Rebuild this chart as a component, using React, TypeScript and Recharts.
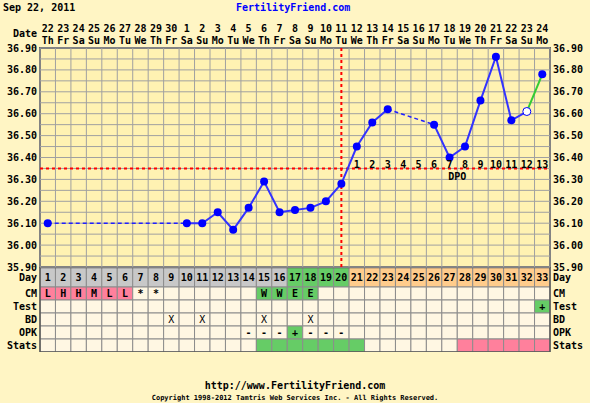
import React from "react";
import {
  ComposedChart,
  Line,
  XAxis,
  YAxis,
  ReferenceLine,
  ReferenceArea,
  ReferenceDot,
  LabelList,
} from "recharts";

const FONT = "'DejaVu Sans Mono', monospace";

// cycle days and their calendar labels
const days = [
  1, 2, 3, 4, 5, 6, 7, 8, 9, 10, 11, 12, 13, 14, 15, 16, 17, 18, 19, 20, 21, 22, 23, 24, 25, 26, 27, 28, 29, 30,
  31, 32, 33,
];
const dates = [
  "22", "23", "24", "25", "26", "27", "28", "29", "30", "1", "2", "3", "4", "5", "6", "7", "8", "9", "10", "11",
  "12", "13", "14", "15", "16", "17", "18", "19", "20", "21", "22", "23", "24",
];
const weekdays = [
  "Th", "Fr", "Sa", "Su", "Mo", "Tu", "We", "Th", "Fr", "Sa", "Su", "Mo", "Tu", "We", "Th", "Fr", "Sa", "Su",
  "Mo", "Tu", "We", "Th", "Fr", "Sa", "Su", "Mo", "Tu", "We", "Th", "Fr", "Sa", "Su", "Mo",
];

// temperatures (null = not recorded)
const temps: (number | null)[] = [
  36.1, null, null, null, null, null, null, null, null, 36.1, 36.1, 36.15, 36.07, 36.17, 36.29, 36.15, 36.16,
  36.17, 36.2, 36.28, 36.45, 36.56, 36.62, null, null, 36.55, 36.4, 36.45, 36.66, 36.86, 36.57, 36.61, 36.78,
];
const tempTicks = [35.9, 36.0, 36.1, 36.2, 36.3, 36.4, 36.5, 36.6, 36.7, 36.8, 36.9];
const openDays = [32];
const greenSegment = [32, 33];
const coverline = 36.35;
const ovulationDay = 20;

// table rows
const cmMarks: Record<number, string> = {
  1: "L", 2: "H", 3: "H", 4: "M", 5: "L", 6: "L", 7: "*", 8: "*", 15: "W", 16: "W", 17: "E", 18: "E",
};
const testMarks: Record<number, string> = { 33: "+" };
const bdMarks: Record<number, string> = { 9: "X", 11: "X", 15: "X", 18: "X" };
const opkMarks: Record<number, string> = { 14: "-", 15: "-", 16: "-", 17: "+", 18: "-", 19: "-", 20: "-" };
const fertileDays = [17, 18, 19, 20];
const statsGreen = [15, 16, 17, 18, 19, 20, 21];
const statsPink = [28, 29, 30, 31, 32, 33];

const BG = "#FFF5C4";
const PLOT = "#FFF2B2";
const CELL = "#FFF7E3";
const GRAY = "#C8C8C8";
const GREEN = "#66CC66";
const ORANGE = "#FFCC8C";
const PINK = "#FF809C";

// dashed connectors over missing readings
const gaps: [number, number][] = [];
let last = -1;
temps.forEach((t, i) => {
  if (t == null) return;
  if (last >= 0 && i - last > 1) gaps.push([last, i]);
  last = i;
});

const rows = [
  { name: "Day", y1: 0, y2: 1.5 },
  { name: "CM", y1: 1.5, y2: 2.5 },
  { name: "Test", y1: 2.5, y2: 3.5 },
  { name: "BD", y1: 3.5, y2: 4.5 },
  { name: "OPK", y1: 4.5, y2: 5.5 },
  { name: "Stats", y1: 5.5, y2: 6.5 },
];
const rowTicks = rows.map((r) => (r.y1 + r.y2) / 2);
const rowName = (v: number) => rows.find((r) => (r.y1 + r.y2) / 2 === v)?.name ?? "";

const chartData = days.map((d, i) => {
  const row: any = {
    day: d,
    temp: d > greenSegment[0] ? null : temps[i],
    green: greenSegment.includes(d) ? temps[i] : null,
    dpo: d > ovulationDay ? d - ovulationDay : null,
    dpoLevel: d > ovulationDay ? coverline : null,
    rowMid: rowTicks[0],
  };
  gaps.forEach(([a, b], k) => {
    row["gap" + k] = i === a || i === b ? temps[i] : null;
  });
  return row;
});

const colEdges = [0, ...days].map((d) => d + 0.5);
const gridLevels = Array.from({ length: 21 }, (_, k) => +(35.9 + k * 0.05).toFixed(2));

const textStyle = { fontSize: 10, fontFamily: FONT, fontWeight: "bold" as const, fill: "#000" };

const DateTick = (props: any) => {
  const { x, y, payload } = props;
  const i = payload.value - 1;
  return (
    <g>
      <text x={x} y={y - 16} textAnchor="middle" {...textStyle}>
        {dates[i]}
      </text>
      <text x={x} y={y - 4} textAnchor="middle" {...textStyle}>
        {weekdays[i]}
      </text>
    </g>
  );
};

const renderDot = (props: any) => {
  const { cx, cy, payload, index } = props;
  if (cx == null || cy == null || payload.temp == null) return <g key={index} />;
  const open = openDays.includes(payload.day);
  return (
    <circle
      key={index}
      cx={cx}
      cy={cy}
      r={4}
      fill={open ? "#FFFFFF" : "#0000FF"}
      stroke="#0000FF"
      strokeWidth={open ? 1 : 0}
    />
  );
};

const renderLastDot = (props: any) => {
  const { cx, cy, payload, index } = props;
  if (cx == null || cy == null || payload.day !== greenSegment[1]) return <g key={index} />;
  return <circle key={index} cx={cx} cy={cy} r={4} fill="#0000FF" />;
};

function cellFor(row: string, d: number): { fill: string; text: string; bold: boolean } {
  if (row === "Day") {
    const fill = d > ovulationDay ? ORANGE : fertileDays.includes(d) ? GREEN : GRAY;
    return { fill, text: String(d), bold: true };
  }
  if (row === "CM") {
    const m = cmMarks[d] ?? "";
    const fill = m && "LHM".includes(m) ? PINK : m && "WE".includes(m) ? GREEN : CELL;
    return { fill, text: m, bold: true };
  }
  if (row === "Test") {
    const m = testMarks[d] ?? "";
    return { fill: m === "+" ? GREEN : CELL, text: m, bold: true };
  }
  if (row === "BD") return { fill: CELL, text: bdMarks[d] ?? "", bold: false };
  if (row === "OPK") {
    const m = opkMarks[d] ?? "";
    return { fill: m === "+" ? GREEN : CELL, text: m, bold: true };
  }
  const fill = statsGreen.includes(d) ? GREEN : statsPink.includes(d) ? PINK : CELL;
  return { fill, text: "", bold: false };
}

const abs = (left: number, top: number, extra: any = {}) => ({
  position: "absolute" as const,
  left,
  top,
  fontFamily: FONT,
  fontWeight: "bold" as const,
  fontSize: 10,
  lineHeight: "12px",
  whiteSpace: "nowrap" as const,
  ...extra,
});

export default function App() {
  return (
    <div style={{ position: "absolute", left: 0, top: 0, width: 590, height: 403, background: BG, overflow: "hidden" }}>
      <div style={abs(3, 2)}>Sep 22, 2011</div>
      <div style={abs(236, 2, { color: "#0000FF" })}>FertilityFriend.com</div>
      <div style={abs(0, 28, { width: 37, textAlign: "right" })}>Date</div>

      <div style={{ position: "absolute", left: 0, top: 267 }}>
        <ComposedChart width={590} height={85} data={chartData} margin={{ top: 0.5, right: 0, bottom: 0, left: 0 }}>
          <XAxis dataKey="day" type="number" domain={[0.5, 33.5]} hide />
          <YAxis
            type="number"
            domain={[0, 6.5]}
            reversed
            ticks={rowTicks}
            interval={0}
            width={40}
            tickLine={false}
            axisLine={false}
            tickSize={0}
            tickMargin={3}
            tick={textStyle}
            tickFormatter={rowName}
          />
          <YAxis
            yAxisId="r"
            orientation="right"
            type="number"
            domain={[0, 6.5]}
            reversed
            ticks={rowTicks}
            interval={0}
            width={40}
            tickLine={false}
            axisLine={false}
            tickSize={0}
            tickMargin={3}
            tick={{ ...textStyle, textAnchor: "start" }}
            tickFormatter={rowName}
          />
          <Line dataKey="rowMid" stroke="none" dot={false} isAnimationActive={false} />
          <Line dataKey="rowMid" yAxisId="r" stroke="none" dot={false} isAnimationActive={false} />
          {rows.map((r) =>
            days.map((d) => {
              const c = cellFor(r.name, d);
              return (
                <ReferenceArea
                  key={r.name + d}
                  x1={d - 0.5}
                  x2={d + 0.5}
                  y1={r.y1}
                  y2={r.y2}
                  fill={c.fill}
                  fillOpacity={1}
                  stroke="#8C8C8C"
                  strokeWidth={1}
                  label={
                    c.text
                      ? {
                          value: c.text,
                          position: "center",
                          ...textStyle,
                          fontWeight: c.bold ? "bold" : "normal",
                        }
                      : undefined
                  }
                />
              );
            })
          )}
          <ReferenceArea x1={0.5} x2={33.5} y1={0} y2={6.5} fill="none" stroke="#555555" strokeWidth={1.5} />
        </ComposedChart>
      </div>

      <div style={{ position: "absolute", left: 0, top: 0 }}>
        <ComposedChart width={590} height={280} data={chartData} margin={{ top: 0, right: 0, bottom: 13, left: 0 }}>
          <XAxis
            dataKey="day"
            type="number"
            domain={[0.5, 33.5]}
            ticks={days}
            interval={0}
            orientation="top"
            height={48}
            tickLine={false}
            axisLine={false}
            tickSize={0}
            tickMargin={0}
            tick={<DateTick />}
          />
          <YAxis
            domain={[35.9, 36.9]}
            ticks={tempTicks}
            interval={0}
            allowDataOverflow
            width={40}
            tickLine={false}
            axisLine={false}
            tickSize={0}
            tickMargin={3}
            tick={textStyle}
            tickFormatter={(v: number) => v.toFixed(2)}
          />
          <YAxis
            yAxisId="r"
            orientation="right"
            domain={[35.9, 36.9]}
            ticks={tempTicks}
            interval={0}
            allowDataOverflow
            width={40}
            tickLine={false}
            axisLine={false}
            tickSize={0}
            tickMargin={3}
            tick={{ ...textStyle, textAnchor: "start" }}
            tickFormatter={(v: number) => v.toFixed(2)}
          />
          <ReferenceArea x1={0.5} x2={33.5} y1={35.9} y2={36.9} fill={PLOT} fillOpacity={1} stroke="none" />
          {gridLevels.map((g) => (
            <ReferenceLine key={"h" + g} y={g} stroke="#A0A0A0" strokeWidth={1} />
          ))}
          {colEdges.map((e) => (
            <ReferenceLine key={"v" + e} x={e} stroke="#A0A0A0" strokeWidth={1} />
          ))}
          <ReferenceArea x1={0.5} x2={33.5} y1={35.9} y2={36.9} fill="none" stroke="#666666" strokeWidth={2} />
          <ReferenceLine y={coverline} stroke="#FF0000" strokeWidth={2} strokeDasharray="3 3" />
          <ReferenceLine x={ovulationDay} stroke="#FF0000" strokeWidth={2} strokeDasharray="3 3" />
          {gaps.map((_, k) => (
            <Line
              key={"gap" + k}
              dataKey={"gap" + k}
              connectNulls
              stroke="#2020FF"
              strokeWidth={1.5}
              strokeDasharray="4 3"
              dot={false}
              isAnimationActive={false}
            />
          ))}
          <Line dataKey="green" stroke="#33CC33" strokeWidth={2} dot={renderLastDot} isAnimationActive={false} />
          <Line dataKey="temp" stroke="#3333FF" strokeWidth={2} dot={renderDot} isAnimationActive={false} />
          <Line dataKey="dpoLevel" stroke="none" dot={false} isAnimationActive={false}>
            <LabelList dataKey="dpo" position="top" offset={0} style={textStyle} />
          </Line>
          <ReferenceDot
            x={27.5}
            y={coverline}
            r={1}
            fill="none"
            stroke="none"
            label={{ value: "DPO", position: "bottom", offset: 3, ...textStyle }}
          />
        </ComposedChart>
      </div>

      <div style={abs(0, 380, { width: 590, textAlign: "center" })}>http://www.FertilityFriend.com</div>
      <div style={abs(0, 394, { width: 590, textAlign: "center", fontSize: 7, lineHeight: "9px" })}>
        Copyright 1998-2012 Tamtris Web Services Inc. - All Rights Reserved.
      </div>
    </div>
  );
}
